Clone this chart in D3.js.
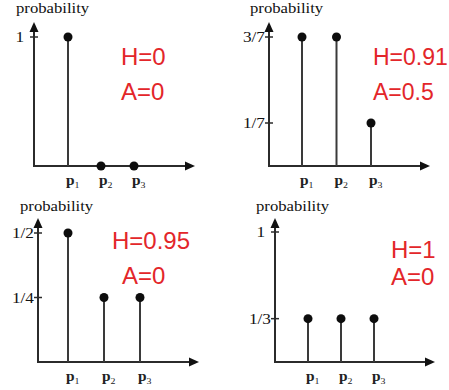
<!DOCTYPE html>
<html>
<head>
<meta charset="utf-8">
<script src="https://cdn.jsdelivr.net/npm/d3@7"></script>
<style>
  html, body { margin: 0; padding: 0; background: #fff; }
  svg { display: block; }
</style>
</head>
<body>
<script>
// Outcome categories (drawn as p with subscript)
const categories = ["1", "2", "3"];

// Probability of each outcome, one array per distribution
const probsA = [1, 0, 0];
const probsB = [3 / 7, 3 / 7, 1 / 7];
const probsC = [1 / 2, 1 / 4, 1 / 4];
const probsD = [1 / 3, 1 / 3, 1 / 3];

// Y tick values and their labels
const ticksA = [1];
const tickLabelsA = ["1"];
const ticksB = [3 / 7, 1 / 7];
const tickLabelsB = ["3/7", "1/7"];
const ticksC = [1 / 2, 1 / 4];
const tickLabelsC = ["1/2", "1/4"];
const ticksD = [1, 1 / 3];
const tickLabelsD = ["1", "1/3"];

// Entropy / asymmetry annotations
const entropyLabels = ["H=0", "H=0.91", "H=0.95", "H=1"];
const asymLabels = ["A=0", "A=0.5", "A=0", "A=0"];

const W = 449, H = 390;
const svg = d3.select("body").append("svg")
  .attr("width", W).attr("height", H);

const ink = "#2b2b2b";
const red = "#e3262a";
const serif = "'Liberation Serif', 'Times New Roman', serif";
const sans = "'Liberation Sans', Arial, sans-serif";

// Panel layouts
const panels = [
  { probs: probsA, ticks: ticksA, tickLabels: tickLabelsA, yMax: 1,
    ox: 34, base: 166, top: 22, right: 195, yTop: 37, xr: [68, 134],
    lbl: [16, 13], hPos: [121, 65], aPos: [121, 100], fs: 24 },
  { probs: probsB, ticks: ticksB, tickLabels: tickLabelsB, yMax: 3 / 7,
    ox: 269, base: 166, top: 22, right: 430, yTop: 37, xr: [302, 371],
    lbl: [250, 13], hPos: [373, 65], aPos: [373, 100], fs: 23 },
  { probs: probsC, ticks: ticksC, tickLabels: tickLabelsC, yMax: 1 / 2,
    ox: 38, base: 362, top: 218, right: 199, yTop: 233, xr: [68, 140],
    lbl: [20, 211], hPos: [112, 249], aPos: [122, 284], fs: 24 },
  { probs: probsD, ticks: ticksD, tickLabels: tickLabelsD, yMax: 1,
    ox: 275, base: 362, top: 218, right: 435, yTop: 232, xr: [308, 374],
    lbl: [256, 211], hPos: [391, 258], aPos: [391, 285], fs: 24 }
];

// Serif text is drawn slightly wide
function wideText(g, x, y, str, size, anchor) {
  return g.append("text")
    .attr("transform", `translate(${x},${y}) scale(1.15,1)`)
    .attr("font-family", serif)
    .attr("font-size", size)
    .attr("text-anchor", anchor || "start")
    .attr("fill", "#111")
    .text(str);
}

panels.forEach((p, i) => {
  const g = svg.append("g");
  const x = d3.scalePoint().domain(categories).range(p.xr);
  const y = d3.scaleLinear().domain([0, p.yMax]).range([p.base, p.yTop]);

  // axes
  g.append("line").attr("x1", p.ox).attr("y1", p.base)
    .attr("x2", p.ox).attr("y2", p.top + 6)
    .attr("stroke", ink).attr("stroke-width", 2);
  g.append("line").attr("x1", p.ox - 1).attr("y1", p.base)
    .attr("x2", p.right - 6).attr("y2", p.base)
    .attr("stroke", ink).attr("stroke-width", 2);
  // arrowheads
  g.append("path")
    .attr("d", `M${p.ox},${p.top} L${p.ox - 4.5},${p.top + 10} L${p.ox + 4.5},${p.top + 10} Z`)
    .attr("fill", "#111");
  g.append("path")
    .attr("d", `M${p.right},${p.base} L${p.right - 10},${p.base - 4.5} L${p.right - 10},${p.base + 4.5} Z`)
    .attr("fill", "#111");

  // y ticks
  p.ticks.forEach((t, k) => {
    g.append("line")
      .attr("x1", p.ox - 4).attr("x2", p.ox + 4)
      .attr("y1", y(t)).attr("y2", y(t))
      .attr("stroke", ink).attr("stroke-width", 1.5);
    const lab = p.tickLabels[k];
    const gap = lab.length === 1 ? 10 : 4;
    wideText(g, p.ox - gap, y(t) + 5, lab, 15, "end");
  });

  // axis title
  wideText(g, p.lbl[0], p.lbl[1], "probability", 14.5, "start");

  // stems
  g.selectAll("line.stem").data(p.probs).join("line")
    .attr("class", "stem")
    .attr("x1", (d, k) => x(categories[k])).attr("x2", (d, k) => x(categories[k]))
    .attr("y1", y(0)).attr("y2", d => y(d))
    .attr("stroke", "#3a3a3a").attr("stroke-width", 2);

  // dots
  g.selectAll("circle").data(p.probs).join("circle")
    .attr("cx", (d, k) => x(categories[k]))
    .attr("cy", d => y(d))
    .attr("r", 4.5)
    .attr("fill", "#0d0d0d");

  // category labels p_k
  categories.forEach(c => {
    const t = g.append("text")
      .attr("transform", `translate(${x(c) - 2},${p.base + 19}) scale(1.1,1)`)
      .attr("font-family", serif).attr("font-size", 14)
      .attr("font-weight", "bold").attr("fill", "#222");
    t.append("tspan").text("p");
    t.append("tspan").attr("font-size", 9).attr("font-weight", "normal")
      .attr("dy", 3).text(c);
  });

  // annotations
  g.append("text").attr("x", p.hPos[0]).attr("y", p.hPos[1])
    .attr("font-family", sans).attr("font-size", p.fs).attr("fill", red)
    .text(entropyLabels[i]);
  g.append("text").attr("x", p.aPos[0]).attr("y", p.aPos[1])
    .attr("font-family", sans).attr("font-size", p.fs).attr("fill", red)
    .text(asymLabels[i]);
});
</script>
</body>
</html>
